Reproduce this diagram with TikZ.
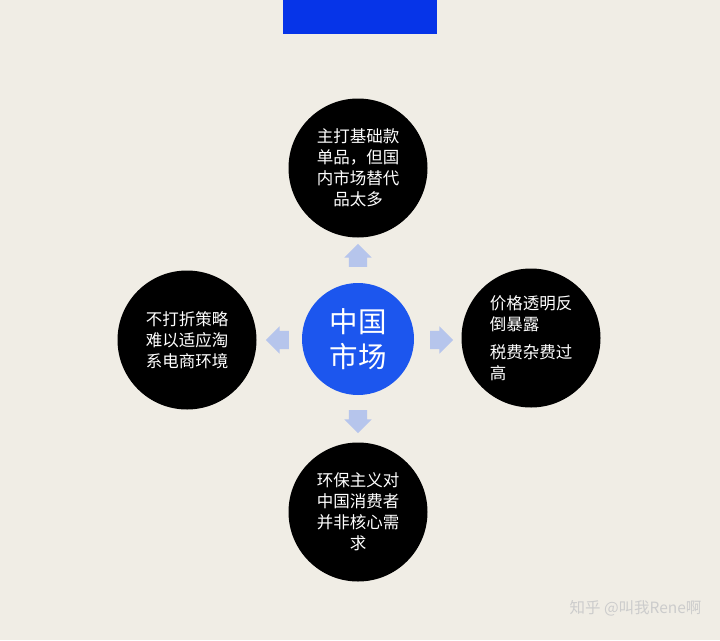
\documentclass[tikz,border=0pt]{standalone}
\usepackage{fontspec}
\setmainfont{Noto Sans CJK SC}
\usepackage{tikz}
\usetikzlibrary{positioning}
\usetikzlibrary{shapes.arrows}
\definecolor{paper}{RGB}{240,237,229}
\definecolor{barblue}{RGB}{6,52,232}
\definecolor{mktblue}{RGB}{28,86,238}
\definecolor{pale}{RGB}{182,197,236}
\tikzset{
    issue/.style={
           circle,
           fill=black,
           minimum size=139pt,
           inner sep=0pt,
           text=white,
           font=\fontsize{16.5}{21}\selectfont,
           },
}
\tikzset{
    core/.style={
           circle,
           fill=mktblue,
           minimum size=112pt,
           inner sep=0pt,
           text=white,
           align=center,
           font=\fontsize{28.5}{35}\selectfont,
           },
}
\tikzset{
    push/.style={
           single arrow,
           fill=pale,
           inner xsep=0pt,
           inner ysep=9pt,
           minimum width=27pt,
           minimum height=23pt,
           single arrow head extend=4.5pt,
           },
}
\begin{document}
\begin{tikzpicture}[x=1pt,y=-1pt]
\fill[paper] (0,0) rectangle (720,640);
\useasboundingbox (0,0) rectangle (720,640);
\fill[barblue] (283,0) rectangle (437,34);
\node[core] (mkt) at (358,339) {中国\\市场};
\node[issue, align=center] (top) at (358,168) {主打基础款\\单品，但国\\内市场替代\\品太多};
\node[issue, align=center] (left) at (187,340) {不打折策略\\难以适应淘\\系电商环境};
\node[issue, align=left] (right) at (531,338) {价格透明反\\倒暴露\\[7pt]税费杂费过\\高};
\node[issue, align=center] (bottom) at (358,512) {环保主义对\\中国消费者\\并非核心需\\求};
\node[push, rotate=90] (upArr) at (358,260) {};
\node[push, rotate=-90] (downArr) at (358,417) {};
\node[push, rotate=180] (leftArr) at (282,340) {};
\node[push] (rightArr) at (437,340) {};
\node[text=gray!40, font=\fontsize{15.5}{18}\selectfont, anchor=east] (mark) at (705,608) {知乎 @叫我Rene啊};
\end{tikzpicture}
\end{document}
